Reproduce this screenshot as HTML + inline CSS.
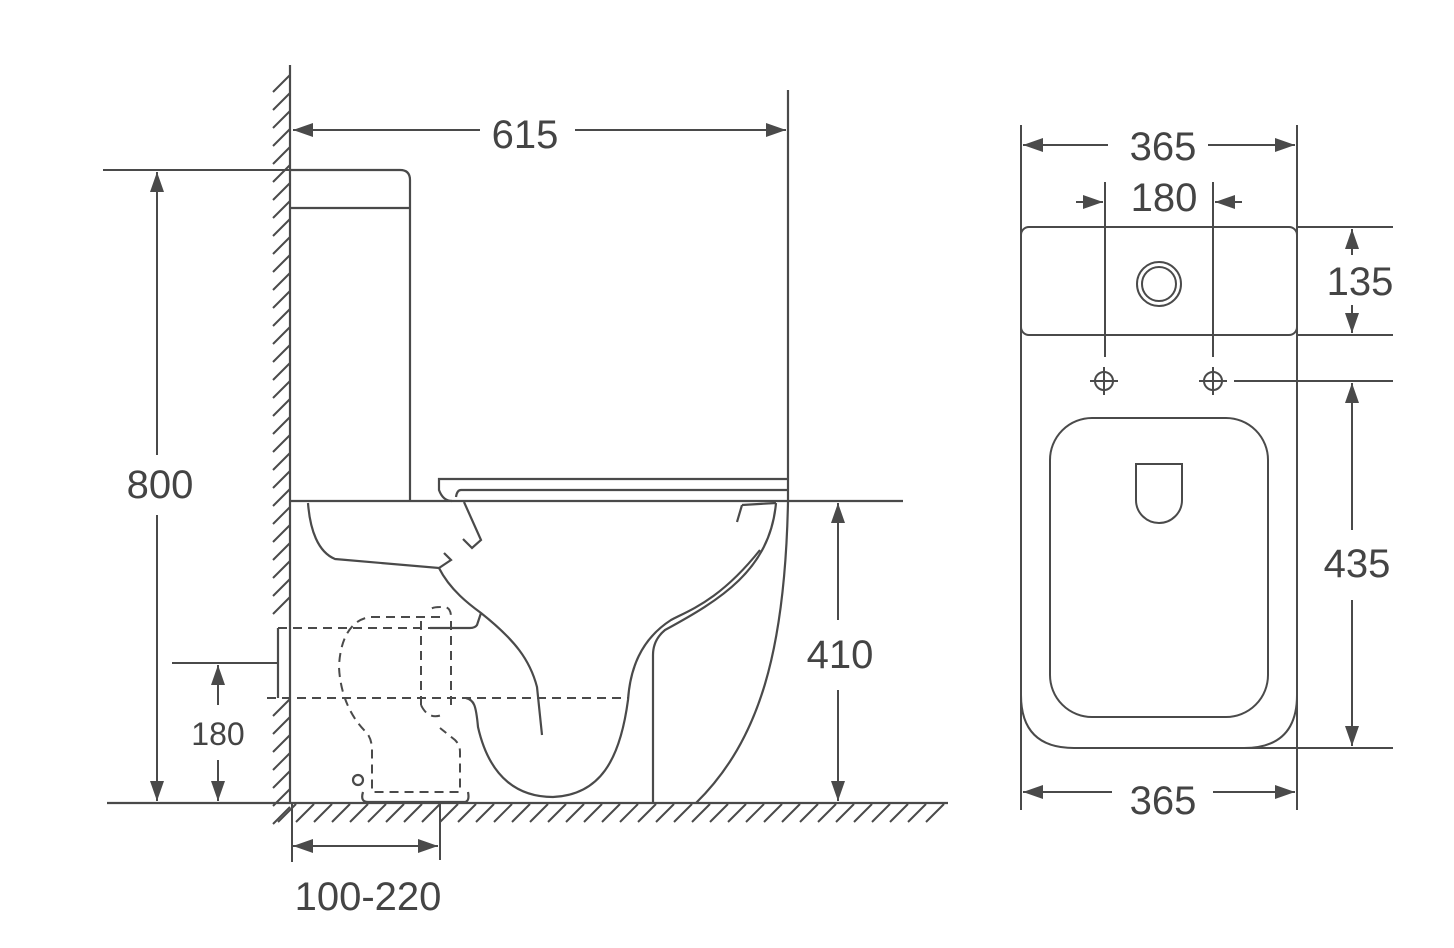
<!DOCTYPE html>
<html><head><meta charset="utf-8"><style>
html,body{margin:0;padding:0;background:#fff;}
svg{display:block;}
text{font-family:"Liberation Sans",sans-serif;fill:#444;}
</style></head><body>
<svg width="1454" height="948" viewBox="0 0 1454 948" xmlns="http://www.w3.org/2000/svg">
<defs>
<marker id="a" viewBox="0 0 20 14" refX="20" refY="7" markerWidth="20" markerHeight="14" markerUnits="userSpaceOnUse" orient="auto-start-reverse"><path d="M0,0 L20,7 L0,14 Z" fill="#4a4a4a"/></marker>
</defs>
<g stroke="#4a4a4a" stroke-width="2.2" fill="none">
<!-- wall hatch -->
<line x1="290" y1="65" x2="290" y2="803"/>
<g stroke-width="2">
<path d="M273,92 l17,-17 M273,110 l17,-17 M273,128 l17,-17 M273,146 l17,-17 M273,164 l17,-17 M273,182 l17,-17 M273,200 l17,-17 M273,218 l17,-17 M273,236 l17,-17 M273,254 l17,-17 M273,272 l17,-17 M273,290 l17,-17 M273,308 l17,-17 M273,326 l17,-17 M273,344 l17,-17 M273,362 l17,-17 M273,380 l17,-17 M273,398 l17,-17 M273,416 l17,-17 M273,434 l17,-17 M273,452 l17,-17 M273,470 l17,-17 M273,488 l17,-17 M273,506 l17,-17 M273,524 l17,-17 M273,542 l17,-17 M273,560 l17,-17 M273,578 l17,-17 M273,596 l17,-17 M273,614 l17,-17 M273,716 l17,-17 M273,734 l17,-17 M273,752 l17,-17 M273,770 l17,-17 M273,788 l17,-17 M273,806 l17,-17 M273,824 l17,-17"/>
<path d="M278,822 l18,-18 M296,822 l18,-18 M314,822 l18,-18 M332,822 l18,-18 M350,822 l18,-18 M368,822 l18,-18 M386,822 l18,-18 M404,822 l18,-18 M422,822 l18,-18 M440,822 l18,-18 M458,822 l18,-18 M476,822 l18,-18 M494,822 l18,-18 M512,822 l18,-18 M530,822 l18,-18 M548,822 l18,-18 M566,822 l18,-18 M584,822 l18,-18 M602,822 l18,-18 M620,822 l18,-18 M638,822 l18,-18 M656,822 l18,-18 M674,822 l18,-18 M692,822 l18,-18 M710,822 l18,-18 M728,822 l18,-18 M746,822 l18,-18 M764,822 l18,-18 M782,822 l18,-18 M800,822 l18,-18 M818,822 l18,-18 M836,822 l18,-18 M854,822 l18,-18 M872,822 l18,-18 M890,822 l18,-18 M908,822 l18,-18 M926,822 l18,-18"/>
</g>
<line x1="107" y1="803" x2="948" y2="803"/>
<!-- tank -->
<path d="M290,170 H400 Q410,170 410,180 V501"/>
<line x1="290" y1="208" x2="410" y2="208"/>
<line x1="290" y1="501" x2="903" y2="501"/>
<!-- seat -->
<path d="M788,479 H439 V490 Q443,501 452,501"/>
<path d="M788,490 H461 Q457,490 456,497"/>
<line x1="788" y1="90" x2="788" y2="502"/>
<!-- bowl outer -->
<path d="M788,502 C785,650 760,740 696,803"/>
<path d="M776,503 C770,570 720,600 665,630 Q653,640 653,655 V803"/>
<path d="M760,550 C720,600 690,610 671,620 C640,640 630,670 628,700 C620,760 600,795 553,797 C520,797 490,780 478,727 C476,705 474,700 466,698"/>
<path d="M439,568 C450,590 470,605 481,613 C515,640 530,660 537,687 L542,735"/>
<path d="M308,503 C310,530 318,552 335,559 L439,568 L451,560 L444,553"/>
<path d="M464,502 L481,540 L472,548 L463,539"/>
<path d="M742,505 L737,522"/>
<path d="M481,613 L477,625 Q475,628 470,628 H430"/>
<line x1="278" y1="628" x2="278" y2="698"/>
<path d="M1,0" />
<line x1="742" y1="505" x2="776" y2="503"/>
<!-- dashed -->
<g stroke-dasharray="9,6" stroke-width="2">
<line x1="278" y1="628" x2="430" y2="628"/>
<line x1="267" y1="698" x2="628" y2="698"/>
<path d="M440,617 H370 C350,620 340,640 339,667 C340,690 348,715 367,733 Q372,740 372,750 V792 H460 V752 Q460,745 455,740 L440,728"/>
<path d="M421,705 V617 M451,705 V617 Q451,605 440,607 Q430,607 428,612"/>
<path d="M421,705 Q428,720 442,715"/>
</g>
<path d="M363,792 Q360,802 368,802 H464 Q470,802 468,792"/>
<circle cx="358" cy="780" r="5"/>
</g>
<!-- left dims -->
<g stroke="#4a4a4a" stroke-width="2" fill="none">
<line x1="103" y1="170" x2="290" y2="170"/>
<line x1="293" y1="130" x2="480" y2="130" marker-start="url(#a)"/>
<line x1="575" y1="130" x2="786" y2="130" marker-end="url(#a)"/>
<line x1="157" y1="172" x2="157" y2="455" marker-start="url(#a)"/>
<line x1="157" y1="515" x2="157" y2="801" marker-end="url(#a)"/>
<line x1="172" y1="663" x2="278" y2="663"/>
<line x1="218" y1="665" x2="218" y2="705" marker-start="url(#a)"/>
<line x1="218" y1="760" x2="218" y2="801" marker-end="url(#a)"/>
<line x1="838" y1="503" x2="838" y2="620" marker-start="url(#a)"/>
<line x1="838" y1="690" x2="838" y2="801" marker-end="url(#a)"/>
<line x1="440" y1="803" x2="440" y2="860"/>
<line x1="293" y1="846" x2="438" y2="846" marker-start="url(#a)" marker-end="url(#a)"/>
<line x1="292" y1="803" x2="292" y2="862"/>
</g>
<text x="525" y="148" font-size="40" text-anchor="middle">615</text>
<text x="160" y="498" font-size="40" text-anchor="middle">800</text>
<text x="218" y="745" font-size="32" text-anchor="middle">180</text>
<text x="840" y="668" font-size="40" text-anchor="middle">410</text>
<text x="368" y="910" font-size="40" text-anchor="middle">100-220</text>
<!-- right view -->
<g stroke="#4a4a4a" stroke-width="2" fill="none">
<line x1="1021" y1="125" x2="1021" y2="810"/>
<line x1="1297" y1="125" x2="1297" y2="810"/>
<line x1="1023" y1="145" x2="1108" y2="145" marker-start="url(#a)"/>
<line x1="1208" y1="145" x2="1295" y2="145" marker-end="url(#a)"/>
<line x1="1105" y1="182" x2="1105" y2="357"/>
<line x1="1213" y1="182" x2="1213" y2="357"/>
<line x1="1076" y1="202" x2="1103" y2="202" marker-end="url(#a)"/>
<line x1="1242" y1="202" x2="1215" y2="202" marker-end="url(#a)"/>
<rect x="1021" y="227" width="276" height="108" rx="8"/>
<line x1="1297" y1="227" x2="1393" y2="227"/>
<line x1="1297" y1="335" x2="1393" y2="335"/>
<circle cx="1159" cy="284" r="22"/>
<circle cx="1159" cy="284" r="17"/>
<line x1="1352" y1="229" x2="1352" y2="255" marker-start="url(#a)"/>
<line x1="1352" y1="305" x2="1352" y2="333" marker-end="url(#a)"/>
<circle cx="1104" cy="381" r="9"/>
<path d="M1090,381 H1118 M1104,367 V395"/>
<circle cx="1213" cy="381" r="9"/>
<path d="M1199,381 H1227 M1213,367 V395"/>
<line x1="1234" y1="381" x2="1393" y2="381"/>
<line x1="1352" y1="383" x2="1352" y2="530" marker-start="url(#a)"/>
<line x1="1352" y1="600" x2="1352" y2="746" marker-end="url(#a)"/>
<path d="M1021,695 Q1021,748 1074,748 H1244 Q1297,748 1297,695"/>
<line x1="1244" y1="748" x2="1393" y2="748"/>
<rect x="1050" y="418" width="218" height="299" rx="42"/>
<path d="M1136,464 H1182 V500 A23,23 0 0 1 1136,500 Z"/>
<line x1="1023" y1="792" x2="1112" y2="792" marker-start="url(#a)"/>
<line x1="1213" y1="792" x2="1295" y2="792" marker-end="url(#a)"/>
</g>
<text x="1163" y="160" font-size="40" text-anchor="middle">365</text>
<text x="1164" y="211" font-size="40" text-anchor="middle">180</text>
<text x="1360" y="295" font-size="40" text-anchor="middle">135</text>
<text x="1357" y="577" font-size="40" text-anchor="middle">435</text>
<text x="1163" y="814" font-size="40" text-anchor="middle">365</text>
</svg>
</body></html>
